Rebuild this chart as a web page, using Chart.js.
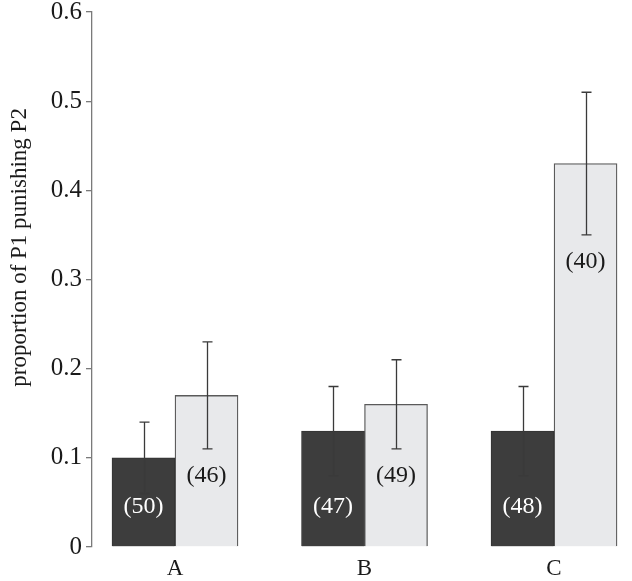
<!DOCTYPE html>
<html>
<head>
<meta charset="utf-8">
<script src="https://cdn.jsdelivr.net/npm/chart.js@4"></script>
<style>
  html, body { margin: 0; padding: 0; background: #fff; }
  #wrap { width: 632px; height: 581px; position: relative; }
</style>
</head>
<body>
<div id="wrap"><canvas id="chart"></canvas></div>
<script>
// categories and values
const categories = ['A', 'B', 'C'];
const darkValues = [0.10, 0.13, 0.13];
const darkLow = [0.06, 0.08, 0.08];
const darkHigh = [0.14, 0.18, 0.18];
const darkN = [50, 47, 48];
const lightValues = [0.17, 0.16, 0.43];
const lightLow = [0.11, 0.11, 0.35];
const lightHigh = [0.23, 0.21, 0.51];
const lightN = [46, 49, 40];
const yTicks = [0, 0.1, 0.2, 0.3, 0.4, 0.5, 0.6];
const yTitle = 'proportion of P1 punishing P2';

const serif = '"Liberation Serif", "DejaVu Serif", serif';

function toPoints(values) {
    return values.map((v, i) => ({ x: i + 1, y: v }));
}

// error bars, (n) labels and the axis title (sits a bit above centre in the original)
const errorBars = {
    id: 'errorBars',
    afterDatasetsDraw(chart) {
        const ctx = chart.ctx;
        const y = chart.scales.y;
        const area = chart.chartArea;
        const sets = [
            { low: darkLow, high: darkHigh, n: darkN, color: '#ffffff' },
            { low: lightLow, high: lightHigh, n: lightN, color: '#1a1a1a' }
        ];
        ctx.save();
        sets.forEach((s, d) => {
            const meta = chart.getDatasetMeta(d);
            meta.data.forEach((bar, i) => {
                const x = Math.round(bar.x) + 0.5;
                const yHi = y.getPixelForValue(s.high[i]);
                const yLo = y.getPixelForValue(s.low[i]);
                ctx.strokeStyle = '#3a3a3a';
                ctx.lineWidth = 1.3;
                ctx.beginPath();
                ctx.moveTo(x, yHi);
                ctx.lineTo(x, yLo);
                ctx.moveTo(x - 5, yHi);
                ctx.lineTo(x + 5, yHi);
                ctx.moveTo(x - 5, yLo);
                ctx.lineTo(x + 5, yLo);
                ctx.stroke();

                ctx.fillStyle = s.color;
                ctx.font = '24px ' + serif;
                ctx.textAlign = 'center';
                ctx.textBaseline = 'middle';
                const ly = d === 0 ? y.getPixelForValue(0) - 40 : yLo + 27;
                ctx.fillText('(' + s.n[i] + ')', bar.x, ly);
            });
        });

        ctx.translate(20, area.top + (area.bottom - area.top) * 0.44);
        ctx.rotate(-Math.PI / 2);
        ctx.fillStyle = '#1a1a1a';
        ctx.font = '23px ' + serif;
        ctx.textAlign = 'center';
        ctx.textBaseline = 'middle';
        ctx.fillText(yTitle, 0, 0);
        ctx.restore();
    }
};

new Chart(document.getElementById('chart'), {
    type: 'bar',
    data: {
        datasets: [
            {
                label: 'dark',
                data: toPoints(darkValues),
                backgroundColor: '#3d3d3d',
                borderColor: '#333333',
                borderWidth: 1
            },
            {
                label: 'light',
                data: toPoints(lightValues),
                backgroundColor: '#e8e9eb',
                borderColor: '#5a5a5a',
                borderWidth: 1.3
            }
        ]
    },
    options: {
        responsive: true,
        maintainAspectRatio: false,
        animation: false,
        barThickness: 63,
        layout: { padding: { top: 0, right: 5, left: 0, bottom: 0 } },
        plugins: {
            legend: { display: false },
            tooltip: { enabled: false }
        },
        scales: {
            x: {
                type: 'linear',
                offset: false,
                min: 0.562,
                max: 3.385,
                afterBuildTicks: (scale) => {
                    scale.ticks = categories.map((c, i) => ({ value: i + 1 }));
                },
                afterFit: (scale) => { scale.height = 34; },
                grid: { display: false },
                border: { display: false },
                ticks: {
                    callback: (v) => categories[Math.round(v) - 1],
                    color: '#1a1a1a',
                    font: { family: serif, size: 23 },
                    padding: 0,
                    maxRotation: 0
                }
            },
            y: {
                min: 0,
                max: 0.6,
                afterBuildTicks: (scale) => {
                    scale.ticks = yTicks.map(v => ({ value: v }));
                },
                afterFit: (scale) => {
                    scale.width = 92;
                    scale.paddingTop = 12;
                },
                grid: {
                    drawOnChartArea: false,
                    drawTicks: true,
                    tickLength: 6,
                    color: '#7a7a7a',
                    lineWidth: 1.3
                },
                border: { display: true, color: '#7a7a7a', width: 1.3 },
                ticks: {
                    callback: (v) => v === 0 ? '0' : v.toFixed(1),
                    color: '#1a1a1a',
                    font: { family: serif, size: 25 },
                    padding: 4
                }
            }
        }
    },
    plugins: [errorBars]
});
</script>
</body>
</html>
